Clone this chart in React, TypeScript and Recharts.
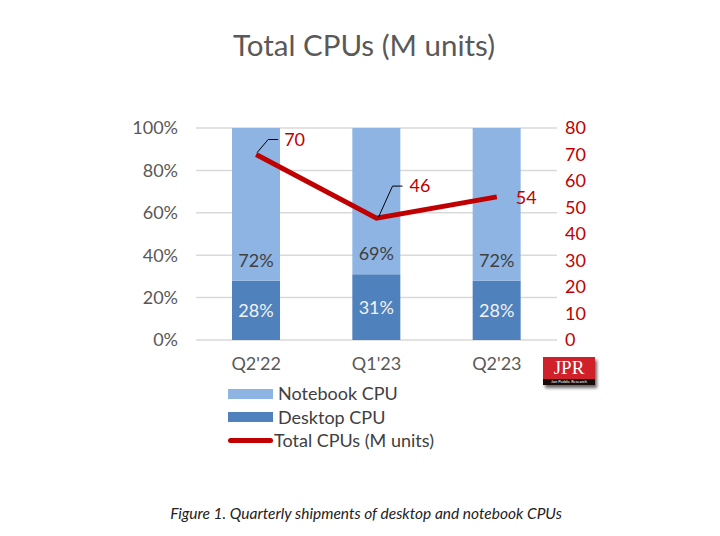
import React from 'react';
import { ComposedChart, Bar, Line, XAxis, YAxis, CartesianGrid, LabelList, Legend } from 'recharts';

const categories = ["Q2'22", "Q1'23", "Q2'23"];
const desktopShare = [28, 31, 28];
const notebookShare = [72, 69, 72];
const totalUnits = [70, 46, 54];
const leftTicks = [0, 20, 40, 60, 80, 100];
const rightTicks = [0, 10, 20, 30, 40, 50, 60, 70, 80];

const data = categories.map((c, i) => ({
  cat: c,
  desktop: desktopShare[i],
  notebook: notebookShare[i],
  total: totalUnits[i],
}));

const FONT = 'Lato, "Open Sans", sans-serif';
const RED = '#C00000';
const NOTEBOOK = '#8EB4E3';
const DESKTOP = '#4F81BD';

const LineLabel = (props: any) => {
  const { x, y, value, index } = props;
  if (x == null || y == null) return null;
  if (index === 0) {
    return (
      <g>
        <polyline points={`${x + 1},${y - 2} ${x + 12},${y - 15} ${x + 22},${y - 15}`} fill="none" stroke="#000" strokeWidth={1} />
        <text x={x + 28} y={y - 15} dy="0.35em" fill={RED} fontSize={18} fontFamily={FONT}>{value}</text>
      </g>
    );
  }
  if (index === 1) {
    return (
      <g>
        <polyline points={`${x + 2},${y - 1} ${x + 16},${y - 32} ${x + 26},${y - 32}`} fill="none" stroke="#000" strokeWidth={1} />
        <text x={x + 33} y={y - 32} dy="0.35em" fill={RED} fontSize={18} fontFamily={FONT}>{value}</text>
      </g>
    );
  }
  return (
    <text x={x + 19} y={y + 1} dy="0.35em" fill={RED} fontSize={18} fontFamily={FONT}>{value}</text>
  );
};

const LegendContent = () => (
  <div style={{ fontFamily: FONT, fontSize: 18, color: '#404040', lineHeight: '23.5px' }}>
    <div style={{ display: 'flex', alignItems: 'center' }}>
      <span style={{ display: 'inline-block', width: 45, height: 10, background: NOTEBOOK, marginRight: 5 }} />
      Notebook CPU
    </div>
    <div style={{ display: 'flex', alignItems: 'center' }}>
      <span style={{ display: 'inline-block', width: 45, height: 10, background: DESKTOP, marginRight: 5 }} />
      Desktop CPU
    </div>
    <div style={{ display: 'flex', alignItems: 'center' }}>
      <span style={{ display: 'inline-block', width: 45, height: 5, borderRadius: 3, background: RED, marginRight: 1 }} />
      Total CPUs (M units)
    </div>
  </div>
);

export default function App() {
  return (
    <div style={{ position: 'relative', width: 704, height: 520, background: '#fff' }}>
      <div style={{ position: 'absolute', left: 0, width: 712, top: 19, textAlign: 'center', fontFamily: FONT, fontSize: 29.5, color: '#595959' }}>
        Total CPUs (M units)
      </div>
      <ComposedChart
        width={704}
        height={520}
        data={data}
        margin={{ top: 120, right: 105, left: 128, bottom: 158 }}
      >
        <CartesianGrid yAxisId="left" vertical={false} stroke="#D9D9D9" strokeWidth={1.5} />
        <XAxis
          dataKey="cat"
          axisLine={false}
          tickLine={false}
          tickSize={0}
          tickMargin={17}
          height={30}
          tick={{ fill: '#595959', fontSize: 18, fontFamily: FONT }}
        />
        <YAxis
          yAxisId="left"
          domain={[0, 100]}
          ticks={leftTicks}
          width={60}
          axisLine={false}
          tickLine={false}
          tickSize={0}
          tickMargin={18}
          tickFormatter={(v: number) => `${v}%`}
          tick={{ fill: '#595959', fontSize: 18, fontFamily: FONT }}
        />
        <YAxis
          yAxisId="right"
          orientation="right"
          domain={[0, 80]}
          ticks={rightTicks}
          width={50}
          axisLine={false}
          tickLine={false}
          tickSize={0}
          tickMargin={8}
          tick={{ fill: RED, fontSize: 18, fontFamily: FONT, textAnchor: 'start' }}
        />
        <Bar yAxisId="left" dataKey="desktop" stackId="s" fill={DESKTOP} barSize={48} isAnimationActive={false}>
          <LabelList dataKey="desktop" position="center" formatter={(v: any) => `${v}%`} fill="#F2F2F2" fontSize={18} fontFamily={FONT} />
        </Bar>
        <Bar yAxisId="left" dataKey="notebook" stackId="s" fill={NOTEBOOK} barSize={48} isAnimationActive={false}>
          <LabelList dataKey="notebook" position="insideBottom" offset={14} formatter={(v: any) => `${v}%`} fill="#404040" fontSize={18} fontFamily={FONT} />
        </Bar>
        <Line
          yAxisId="right"
          dataKey="total"
          stroke={RED}
          strokeWidth={5}
          dot={false}
          type="linear"
          isAnimationActive={false}
        >
          <LabelList dataKey="total" content={<LineLabel />} />
        </Line>
        <Legend
          layout="vertical"
          align="center"
          verticalAlign="middle"
          content={<LegendContent />}
          wrapperStyle={{ position: 'absolute', left: 220, top: 374, width: 'auto', height: 'auto' }}
        />
      </ComposedChart>
      <div style={{ position: 'absolute', left: 535, top: 349, width: 52, height: 28, background: '#D0202A', boxShadow: '2px 3px 3px rgba(0,0,0,0.6)', textAlign: 'center', color: '#fff' }}>
        <div style={{ fontFamily: '"Liberation Serif", serif', fontSize: 19, lineHeight: '22px', height: 22 }}>JPR</div>
        <div style={{ fontFamily: FONT, fontSize: 4, lineHeight: '6px', height: 6, background: '#1a0a0a', whiteSpace: 'nowrap' }}>Jon Peddie Research</div>
      </div>
      <div style={{ position: 'absolute', left: 0, width: 716, top: 496, textAlign: 'center', fontFamily: FONT, fontSize: 15.5, fontStyle: 'italic', color: '#222' }}>
        Figure 1. Quarterly shipments of desktop and notebook CPUs
      </div>
    </div>
  );
}
